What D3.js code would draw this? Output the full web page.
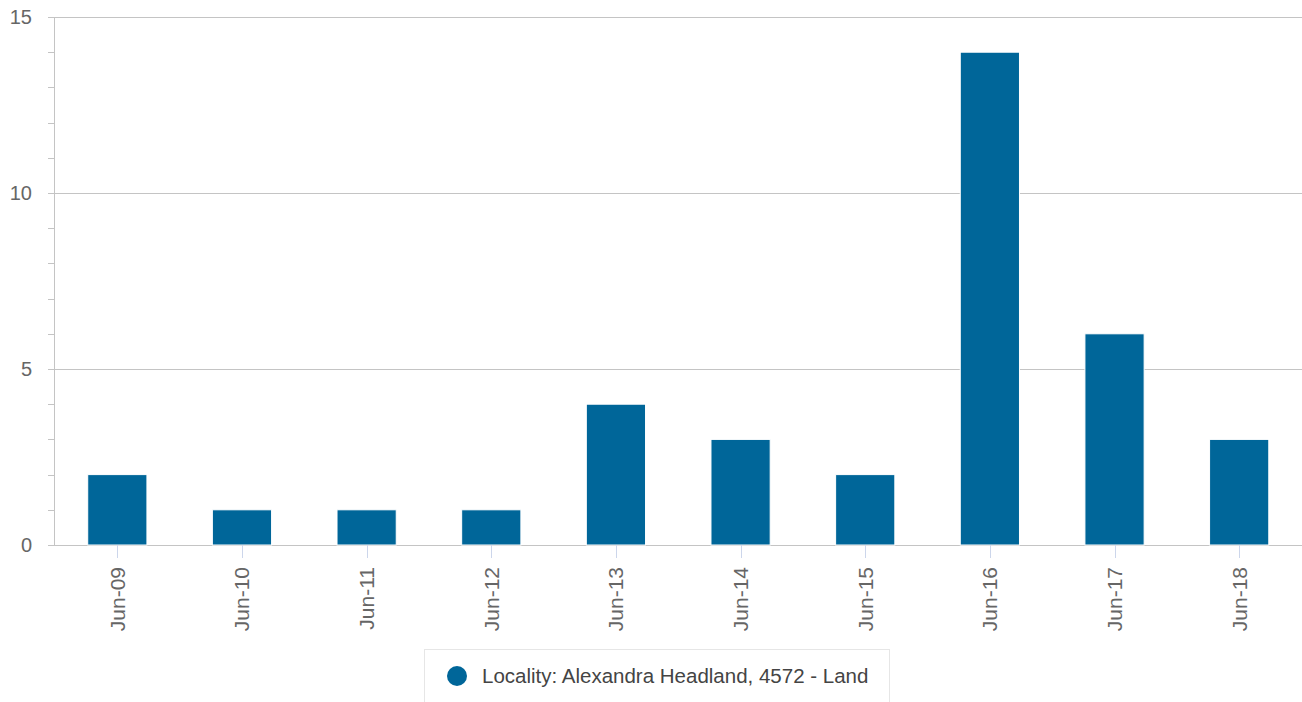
<!DOCTYPE html>
<html>
<head>
<meta charset="utf-8">
<script src="https://d3js.org/d3.v7.min.js"></script>
<style>
  body { margin: 0; background: #fff; }
  svg { display: block; font-family: "Liberation Sans", Arial, Helvetica, sans-serif; }
</style>
</head>
<body>
<div id="chart"></div>
<script>
// data
const categories = ["Jun-09", "Jun-10", "Jun-11", "Jun-12", "Jun-13", "Jun-14", "Jun-15", "Jun-16", "Jun-17", "Jun-18"];
const sales = [2, 1, 1, 1, 4, 3, 2, 14, 6, 3];
const yMajorTicks = [0, 5, 10, 15];
const yMinorTicks = d3.range(0, 16);
const seriesName = "Locality: Alexandra Headland, 4572 - Land";
const barColor = "#006699";

const W = 1302, H = 702;
const margin = {top: 17, right: 0.5, bottom: 157, left: 55};

const svg = d3.select("#chart").append("svg")
    .attr("width", W)
    .attr("height", H);

// scales
const x = d3.scaleBand()
    .domain(categories)
    .range([margin.left, W - margin.right])
    .padding(0);

const y = d3.scaleLinear()
    .domain([0, 15])
    .range([H - margin.bottom, margin.top]);

const barW = x.bandwidth() * 0.475;

// grid lines at major ticks
svg.append("g")
    .selectAll("line")
    .data(yMajorTicks)
    .join("line")
    .attr("x1", 48)
    .attr("x2", W)
    .attr("y1", d => Math.round(y(d)) + 0.5)
    .attr("y2", d => Math.round(y(d)) + 0.5)
    .attr("stroke", "#c4c4c4")
    .attr("stroke-width", 1);

// minor ticks on y axis
svg.append("g")
    .selectAll("line")
    .data(yMinorTicks.filter(d => d % 5 !== 0))
    .join("line")
    .attr("x1", 48)
    .attr("x2", margin.left)
    .attr("y1", d => Math.round(y(d)) + 0.5)
    .attr("y2", d => Math.round(y(d)) + 0.5)
    .attr("stroke", "#c4c4c4");

// y axis line
svg.append("line")
    .attr("x1", margin.left - 0.5)
    .attr("x2", margin.left - 0.5)
    .attr("y1", y(15))
    .attr("y2", y(0))
    .attr("stroke", "#c4c4c4");

// y labels
svg.append("g")
    .selectAll("text")
    .data(yMajorTicks)
    .join("text")
    .attr("x", 32)
    .attr("y", d => y(d))
    .attr("dy", "0.35em")
    .attr("text-anchor", "end")
    .attr("fill", "#666666")
    .style("font-size", "20px")
    .text(d => d);

// bars
svg.append("g")
    .selectAll("rect")
    .data(sales)
    .join("rect")
    .attr("x", (d, i) => x(categories[i]) + x.bandwidth() / 2 - barW / 2)
    .attr("y", d => y(d))
    .attr("width", barW)
    .attr("height", d => y(0) - y(d))
    .attr("fill", barColor)
    .attr("stroke", "#ffffff")
    .attr("stroke-width", 1);

// x ticks
svg.append("g")
    .selectAll("line")
    .data(categories)
    .join("line")
    .attr("x1", d => Math.round(x(d) + x.bandwidth() / 2) + 0.5)
    .attr("x2", d => Math.round(x(d) + x.bandwidth() / 2) + 0.5)
    .attr("y1", y(0))
    .attr("y2", y(0) + 13)
    .attr("stroke", "#ccd6eb");

// x labels, rotated
svg.append("g")
    .selectAll("text")
    .data(categories)
    .join("text")
    .attr("transform", d => `translate(${x(d) + x.bandwidth() / 2},${y(0) + 22}) rotate(-90)`)
    .attr("dy", "0.35em")
    .attr("text-anchor", "end")
    .attr("fill", "#666666")
    .style("font-size", "21px")
    .text(d => d);

// legend
const legend = svg.append("g");
legend.append("rect")
    .attr("x", 424.5)
    .attr("y", 649.5)
    .attr("width", 465)
    .attr("height", 60)
    .attr("fill", "#ffffff")
    .attr("stroke", "#e6e6e6");
legend.append("circle")
    .attr("cx", 457)
    .attr("cy", 676)
    .attr("r", 10)
    .attr("fill", barColor);
legend.append("text")
    .attr("x", 482)
    .attr("y", 676)
    .attr("dy", "0.35em")
    .attr("fill", "#444444")
    .style("font-size", "20.5px")
    .text(seriesName);
</script>
</body>
</html>
